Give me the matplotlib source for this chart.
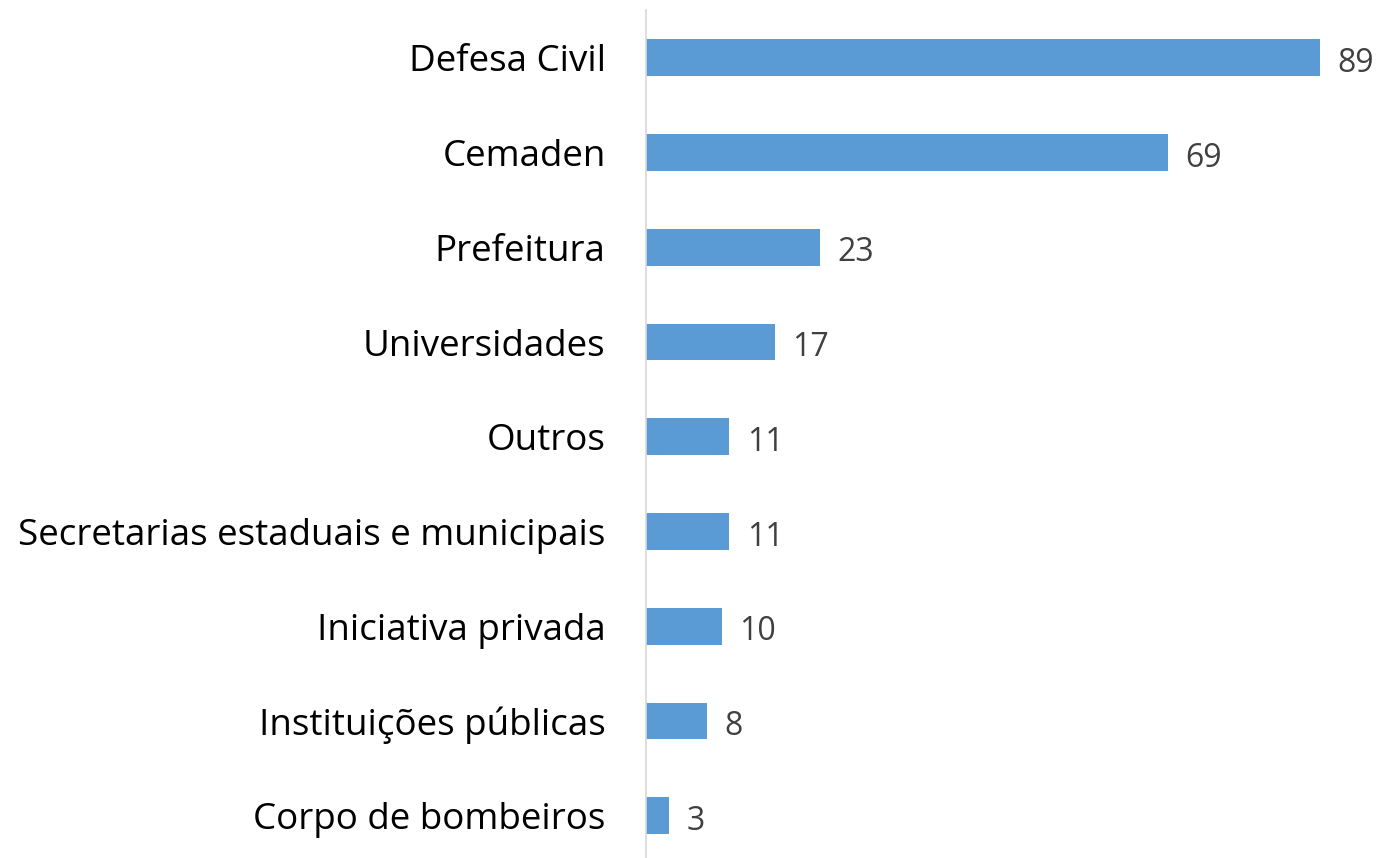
import matplotlib.pyplot as plt

categorias = ['Defesa Civil', 'Cemaden', 'Prefeitura', 'Universidades', 'Outros',
              'Secretarias estaduais e municipais', 'Iniciativa privada',
              'Instituições públicas', 'Corpo de bombeiros']
valores = [89, 69, 23, 17, 11, 11, 10, 8, 3]

plt.rcParams['font.family'] = ['Open Sans', 'DejaVu Sans']

fig = plt.figure(figsize=(13.78, 8.58), dpi=100)
ax = fig.add_axes([646 / 1378, -0.006, 732 / 1378, 0.9939])

y = list(range(len(categorias)))
ax.barh(y, valores, height=0.39, color='#5B9BD5')
ax.set_ylim(len(categorias) - 0.5, -0.5)
ax.set_xlim(0, 96.7)

for yi, v in zip(y, valores):
    ax.text(v + 2.3, yi + 0.06, str(v), va='center', ha='left', fontsize=23, color='#404040')

ax.set_yticks(y)
ax.set_yticklabels(categorias, fontsize=26.5, color='black')
ax.tick_params(axis='y', length=0, pad=29)
ax.set_xticks([])
for s in ['top', 'right', 'bottom']:
    ax.spines[s].set_visible(False)
ax.spines['left'].set_color('#D9D9D9')
ax.spines['left'].set_linewidth(1.2)

fig.savefig('out.png', dpi=100)
